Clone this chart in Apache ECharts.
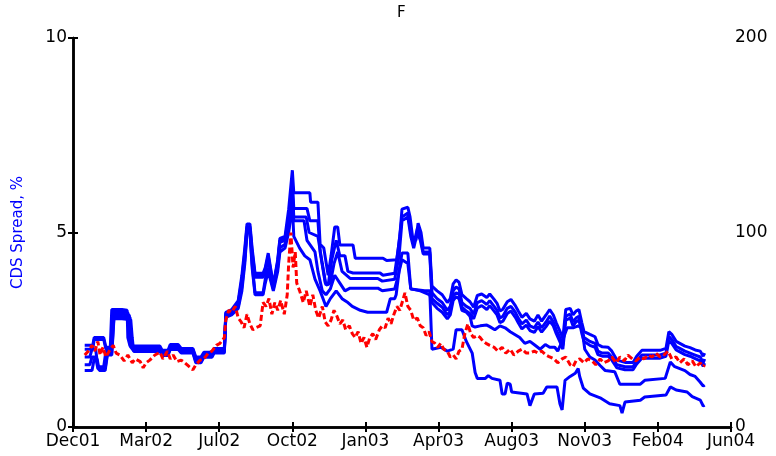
<!DOCTYPE html>
<html>
<head>
<meta charset="utf-8">
<script src="https://cdn.jsdelivr.net/npm/echarts@6/dist/echarts.min.js"></script>
<style>
  html, body { margin: 0; padding: 0; background: #fff; }
  #chart { width: 776px; height: 456px; }
</style>
</head>
<body>
<div id="chart"></div>
<script>
// x values are days after the start of the window; one tick every 100 days
const tickLabels = ['Dec01', 'Mar02', 'Jul02', 'Oct02', 'Jan03', 'Apr03', 'Aug03', 'Nov03', 'Feb04', 'Jun04'];
const leftTicks = [0, 5, 10];
const rightTicks = [0, 100, 200];

// CDS spread quotes (%), five contracts
const cdsA = [[16,2.1],[27,2.1],[29,2.3],[42,2.3],[45,2.05],[51,2.05],[53,3.02],[67,3.02],[74,3.0],[75,2.3],[78,2.08],[119,2.08],[122,1.97],[130,1.97],[133,2.12],[144,2.12],[148,2.02],[164,2.02],[168,1.8],[175,1.8],[179,1.92],[190,1.92],[193,2.02],[207,2.02],[209,2.95],
  [217,3.02],[226,3.25],[231,3.9],[235,4.6],[238,5.22],[242,5.22],[245,4.6],[249,3.95],[260,3.95],[263,4.1],[267,4.47],[274,3.65],[280,4.3],[283,4.85],[290,4.9],[295,5.6],[300,6.6],[302,6.02],
  [324,6.02],[325,5.78],[335,5.78],[338,4.7],[343,4.6],[349,3.9],[353,4.4],[358,5.14],[362,5.14],[365,4.68],[383,4.68],[386,4.34],[424,4.34],[429,4.28],[443,4.3],[447,4.9],[450,5.6],[458,5.65],[461,5.4],[465,4.8],[469,4.8],[472,5.24],[476,5.0],[479,4.6],[488,4.6],
  [491,3.62],[498,3.5],[505,3.4],[512,3.2],[516,3.3],[520,3.68],[524,3.78],[528,3.72],[532,3.4],[538,3.3],[543,3.22],[548,3.08],[553,3.38],[559,3.42],[566,3.33],[570,3.42],[576,3.28],[580,3.18],[584,2.98],[588,3.03],[594,3.22],[599,3.28],[605,3.12],[609,2.98],[614,2.82],[620,2.92],[625,2.78],[631,2.72],[636,2.88],[641,2.72],[647,2.88],[652,3.02],[657,2.88],[661,2.68],[663,2.72],[667,2.42],[670,2.28],[674,3.02],[680,3.05],[684,2.88],[688,2.98],[692,3.02],[696,2.68],[699,2.45],[707,2.38],[714,2.32],[718,2.12],[724,2.06],[732,2.05],[737,1.95],[744,1.72],[755,1.66],[766,1.66],[771,1.82],[778,1.97],[789,1.97],[803,1.97],[811,2.02],[815,2.45],[819,2.38],[825,2.2],[830,2.15],[837,2.08],[844,2.04],[851,1.98],[858,1.95],[862,1.82],[864,1.9]];

const cdsB = [[16,2.0],[27,2.0],[29,2.25],[42,2.25],[45,2.0],[52,2.0],[55,2.96],[67,2.96],[75,2.94],[77,2.3],[79,2.04],[119,2.04],[122,1.93],[130,1.93],[133,2.08],[144,2.08],[148,1.99],[164,1.99],[168,1.76],[175,1.76],[179,1.88],[190,1.88],[193,1.99],[207,1.99],[209,2.92],
  [217,2.98],[226,3.2],[231,3.8],[235,4.5],[238,5.15],[242,5.15],[245,4.5],[249,3.9],[260,3.9],[263,4.05],[267,4.4],[274,3.62],[280,4.25],[283,4.8],[290,4.85],[295,5.4],[300,6.3],[302,5.62],
  [320,5.62],[324,5.3],[335,5.3],[338,4.5],[345,3.7],[349,3.65],[354,4.3],[360,4.8],[365,4.4],[372,4.4],[376,4.0],[383,3.96],[420,3.96],[424,3.9],[440,3.95],[445,4.6],[450,5.4],[458,5.5],[462,5.0],[466,4.7],[471,5.1],[475,4.9],[479,4.5],[488,4.5],
  [491,3.45],[498,3.3],[505,3.2],[512,3.0],[516,3.1],[520,3.5],[524,3.6],[528,3.55],[532,3.2],[538,3.1],[543,3.05],[548,2.9],[553,3.2],[559,3.25],[566,3.15],[570,3.25],[576,3.1],[580,3.0],[584,2.8],[588,2.85],[594,3.05],[599,3.1],[605,2.95],[609,2.8],[614,2.65],[620,2.75],[625,2.6],[631,2.55],[636,2.7],[641,2.55],[647,2.7],[652,2.85],[657,2.7],[661,2.5],[663,2.55],[667,2.25],[670,2.1],[674,2.85],[680,2.9],[684,2.7],[688,2.8],[692,2.85],[696,2.5],[699,2.3],[707,2.2],[714,2.15],[718,1.95],[724,1.9],[732,1.9],[737,1.8],[744,1.6],[755,1.55],[766,1.55],[771,1.7],[778,1.85],[789,1.85],[803,1.85],[811,1.9],[815,2.33],[819,2.25],[825,2.07],[830,2.02],[837,1.95],[844,1.9],[851,1.85],[858,1.8],[862,1.65],[864,1.75]];

const cdsC = [[16,1.8],[23,1.8],[26,2.0],[31,2.0],[34,1.55],[42,1.55],[45,1.95],[52,1.95],[55,2.9],[67,2.9],[77,2.88],[78,2.3],[81,2.0],[119,2.0],[122,1.9],[130,1.9],[133,2.05],[144,2.05],[148,1.96],[164,1.96],[168,1.72],[175,1.72],[179,1.85],[190,1.85],[193,1.96],[207,1.96],[209,2.88],
  [217,2.95],[226,3.15],[231,3.7],[235,4.4],[238,5.1],[242,5.1],[245,4.4],[249,3.85],[260,3.85],[263,4.0],[267,4.3],[274,3.6],[280,4.2],[283,4.75],[290,4.8],[295,5.3],[300,6.1],[302,5.4],
  [319,5.4],[323,5.0],[335,4.9],[341,4.2],[346,3.65],[352,3.7],[357,4.2],[362,4.5],[368,4.0],[379,3.82],[417,3.82],[423,3.75],[440,3.8],[446,4.4],[450,5.3],[458,5.4],[462,4.9],[466,4.6],[471,5.0],[475,4.8],[479,4.45],[488,4.45],
  [491,3.3],[498,3.18],[505,3.08],[512,2.88],[516,2.98],[520,3.36],[524,3.45],[528,3.42],[532,3.08],[538,2.98],[543,2.92],[548,2.78],[553,3.06],[559,3.12],[566,3.02],[570,3.12],[576,2.98],[580,2.88],[584,2.68],[588,2.72],[594,2.92],[599,2.98],[605,2.82],[609,2.68],[614,2.52],[620,2.62],[625,2.48],[631,2.43],[636,2.58],[641,2.44],[647,2.58],[652,2.72],[657,2.6],[661,2.4],[663,2.44],[667,2.15],[670,2.0],[674,2.75],[680,2.8],[684,2.6],[688,2.7],[692,2.75],[696,2.4],[699,2.2],[707,2.1],[714,2.05],[718,1.86],[724,1.82],[732,1.82],[737,1.72],[744,1.52],[755,1.47],[766,1.47],[771,1.62],[778,1.77],[789,1.77],[803,1.77],[811,1.82],[815,2.22],[819,2.15],[825,1.98],[830,1.93],[837,1.86],[844,1.82],[851,1.76],[858,1.7],[862,1.56],[864,1.64]];

const cdsD = [[16,1.6],[23,1.6],[26,1.8],[31,1.8],[34,1.5],[44,1.5],[47,1.9],[53,1.9],[56,2.84],[67,2.84],[78,2.82],[79,2.3],[82,1.97],[119,1.97],[122,1.87],[130,1.87],[133,2.02],[144,2.02],[148,1.93],[164,1.93],[168,1.68],[175,1.68],[179,1.82],[190,1.82],[193,1.93],[207,1.93],[209,2.85],
  [217,2.92],[226,3.1],[231,3.6],[235,4.3],[238,5.05],[242,5.05],[245,4.2],[249,3.45],[260,3.45],[263,3.8],[267,4.1],[274,3.55],[280,4.1],[283,4.6],[290,4.7],[295,5.1],[300,5.9],[302,5.3],
  [316,5.3],[320,4.8],[331,4.5],[335,4.0],[341,3.5],[346,3.4],[352,3.55],[358,3.9],[365,3.7],[372,3.5],[379,3.57],[417,3.57],[423,3.5],[440,3.55],[445,3.9],[450,4.47],[458,4.47],[462,3.55],[481,3.5],[488,3.5],
  [491,2.0],[503,2.05],[512,1.95],[520,2.0],[524,2.5],[532,2.5],[538,2.2],[546,1.9],[550,1.4],[553,1.25],[564,1.25],[568,1.32],[573,1.25],[584,1.2],[587,0.85],[591,0.85],[594,1.13],[598,1.1],[600,0.9],[621,0.85],[625,0.55],[627,0.5],[631,0.85],[643,0.87],[648,1.03],[662,1.03],[666,0.6],[669,0.44],[673,1.2],[680,1.3],[687,1.38],[691,1.5],[693,1.3],[698,1.0],[707,0.85],[721,0.75],[734,0.6],[748,0.55],[751,0.36],[755,0.64],[776,0.69],[782,0.77],[811,0.82],[817,1.03],[825,0.95],[840,0.9],[847,0.78],[858,0.69],[862,0.54],[864,0.56]];

const cdsE = [[16,1.45],[26,1.45],[29,1.75],[33,1.75],[36,1.45],[44,1.45],[47,1.85],[53,1.85],[56,2.78],[67,2.78],[79,2.76],[81,2.3],[83,1.94],[119,1.94],[122,1.84],[130,1.84],[133,1.99],[144,1.99],[148,1.9],[164,1.9],[168,1.65],[175,1.65],[179,1.79],[190,1.79],[193,1.9],[207,1.9],[209,2.82],
  [217,2.88],[226,3.05],[231,3.5],[235,4.2],[238,5.0],[242,5.0],[245,4.1],[249,3.4],[260,3.4],[263,3.7],[267,4.0],[274,3.5],[280,4.0],[283,4.5],[290,4.6],[295,5.0],[300,5.7],[302,4.9],
  [310,4.6],[317,4.4],[324,4.3],[331,3.8],[338,3.5],[346,3.1],[352,3.3],[360,3.5],[368,3.3],[376,3.2],[382,3.1],[393,3.0],[403,2.95],[429,2.95],[434,3.3],[440,3.3],[442,3.4],[446,4.0],[450,4.3],[458,4.2],[462,3.55],[475,3.5],[488,3.4],
  [491,3.2],[498,3.05],[505,2.95],[512,2.78],[516,2.88],[520,3.25],[524,3.35],[528,3.3],[532,3.0],[538,2.95],[543,2.85],[546,2.6],[550,2.57],[557,2.6],[566,2.62],[570,2.58],[577,2.5],[584,2.6],[591,2.55],[598,2.45],[611,2.3],[618,2.15],[625,2.2],[632,2.1],[639,2.0],[646,2.12],[652,2.05],[659,2.05],[663,1.95],[669,2.2],[676,2.55],[684,2.55],[691,2.6],[696,2.55],[700,2.0],[707,1.8],[714,1.72],[721,1.58],[728,1.45],[741,1.42],[748,1.1],[762,1.1],[776,1.1],[782,1.2],[810,1.25],[817,1.67],[823,1.55],[837,1.45],[844,1.35],[851,1.3],[858,1.15],[862,1.05],[864,1.08]];

// comparison series, drawn dashed
const model = [[16,1.85],[21,1.95],[26,2.1],[30,1.95],[34,2.2],[37,1.85],[41,2.05],[45,1.8],[51,2.0],[55,2.1],[59,1.9],[64,1.85],[70,1.7],[75,1.85],[81,1.65],[85,1.75],[92,1.68],[96,1.52],[100,1.65],[105,1.72],[112,1.85],[119,1.92],[123,1.75],[129,1.95],[133,1.75],[137,1.85],[142,1.68],[148,1.72],[153,1.65],[159,1.55],[164,1.47],[168,1.6],[174,1.72],[179,1.75],[185,1.9],[190,1.95],[196,2.1],[201,2.15],[207,2.3],
  [209,2.75],[213,3.0],[217,2.95],[222,3.1],[226,2.8],[230,2.7],[234,2.55],[238,2.9],[242,2.65],[246,2.5],[250,2.55],[256,2.6],[260,3.2],[264,3.1],[268,3.3],[272,2.9],[276,3.2],[280,3.0],[284,3.25],[289,2.9],[293,3.4],[295,4.2],[298,5.0],[301,4.1],[304,4.5],[306,3.7],[310,3.5],[315,3.2],[319,3.5],[324,3.1],[328,3.4],[332,3.0],[336,2.8],[341,3.1],[345,2.7],[349,2.6],[353,2.75],[357,3.0],[361,2.85],[365,2.65],[369,2.75],[373,2.5],[378,2.6],[382,2.4],[386,2.3],[390,2.45],[394,2.15],[398,2.3],[402,2.05],
  [406,2.3],[410,2.4],[414,2.25],[419,2.5],[423,2.6],[427,2.55],[431,2.8],[435,2.65],[439,2.9],[443,3.1],[447,3.0],[451,3.25],[454,3.45],[458,3.1],[462,3.0],[466,2.75],[471,2.8],[475,2.6],[479,2.55],[483,2.35],[487,2.45],[491,2.2],[495,2.15],[499,2.05],[503,2.15],[507,2.0],[512,1.95],[516,1.8],[520,1.85],[524,1.75],[528,1.95],[532,2.0],[536,2.4],[540,2.65],[544,2.4],[548,2.3],[553,2.35],[557,2.3],[561,2.2],[565,2.15],[570,2.1],[576,2.05],[581,1.95],[587,2.05],[592,1.9],[598,2.0],[603,1.85],[609,1.95],[614,2.0],[620,1.9],
  [625,1.9],[631,1.95],[636,1.9],[641,1.95],[647,1.85],[652,1.8],[658,1.75],[663,1.65],[669,1.75],[674,1.8],[680,1.6],[684,1.55],[688,1.7],[693,1.75],[699,1.65],[704,1.75],[710,1.7],[715,1.6],[721,1.75],[726,1.65],[732,1.7],[737,1.8],[743,1.65],[748,1.8],[754,1.7],[759,1.85],[765,1.75],[770,1.7],[776,1.8],[781,1.75],[787,1.85],[792,1.8],[797,1.9],[803,1.8],[808,1.85],[814,1.95],[819,1.75],[825,1.8],[830,1.65],[836,1.75],[841,1.6],[847,1.7],[852,1.55],[858,1.65],[862,1.55],[864,1.6]];

const FONT = 'DejaVu Sans';
const AXIS_LINE = { show: true, lineStyle: { color: '#000', width: 2.5 } };

const chart = echarts.init(document.getElementById('chart'), null, { renderer: 'canvas' });

const blueSeries = [cdsA, cdsB, cdsC, cdsD, cdsE].map(function (d) {
  return {
    type: 'line', data: d, showSymbol: false, animation: false,
    xAxisIndex: 0, yAxisIndex: 0,
    lineStyle: { color: '#0000ff', width: 3 },
    emphasis: { disabled: true }
  };
});

chart.setOption({
  animation: false,
  backgroundColor: '#fff',
  title: {
    text: 'F', left: 397, top: 6, padding: 0,
    textStyle: { fontFamily: FONT, fontSize: 15, fontWeight: 'normal', color: '#000' }
  },
  grid: { left: 73, right: 45, top: 38, bottom: 29, containLabel: false },
  xAxis: [
    {
      type: 'value', position: 'bottom', min: 0, max: 900, interval: 100,
      axisLine: AXIS_LINE,
      axisTick: { show: true, inside: true, length: 5, lineStyle: { color: '#000', width: 2 } },
      axisLabel: {
        show: true, margin: 6, color: '#000', fontFamily: FONT, fontSize: 17,
        formatter: function (v) { return tickLabels[Math.round(v / 100)] || ''; }
      },
      splitLine: { show: false }
    },
    {
      type: 'value', position: 'top', min: 0, max: 900, interval: 100,
      axisLine: AXIS_LINE,
      axisTick: { show: true, inside: true, length: 5, lineStyle: { color: '#000', width: 2 } },
      axisLabel: { show: false },
      splitLine: { show: false }
    }
  ],
  yAxis: [
    {
      type: 'value', position: 'left', min: leftTicks[0], max: leftTicks[leftTicks.length - 1], interval: leftTicks[1] - leftTicks[0],
      axisLine: AXIS_LINE,
      axisTick: { show: true, inside: true, length: 5, lineStyle: { color: '#000', width: 2 } },
      axisLabel: { margin: 6, color: '#000', fontFamily: FONT, fontSize: 17 },
      splitLine: { show: false },
      name: 'CDS Spread, %', nameLocation: 'middle', nameGap: 47, nameRotate: 90,
      nameTextStyle: { color: '#0000ff', fontFamily: FONT, fontSize: 15 }
    },
    {
      type: 'value', position: 'right', min: rightTicks[0], max: rightTicks[rightTicks.length - 1], interval: rightTicks[1] - rightTicks[0],
      axisLine: AXIS_LINE,
      axisTick: { show: true, inside: true, length: 5, lineStyle: { color: '#000', width: 2 } },
      axisLabel: { margin: 4, color: '#000', fontFamily: FONT, fontSize: 17 },
      splitLine: { show: false }
    }
  ],
  series: blueSeries.concat([{
    type: 'line', data: model, showSymbol: false, animation: false,
    xAxisIndex: 0, yAxisIndex: 0,
    lineStyle: { color: '#ff0000', width: 3, type: [6, 3] },
    emphasis: { disabled: true }
  }])
});
</script>
</body>
</html>
